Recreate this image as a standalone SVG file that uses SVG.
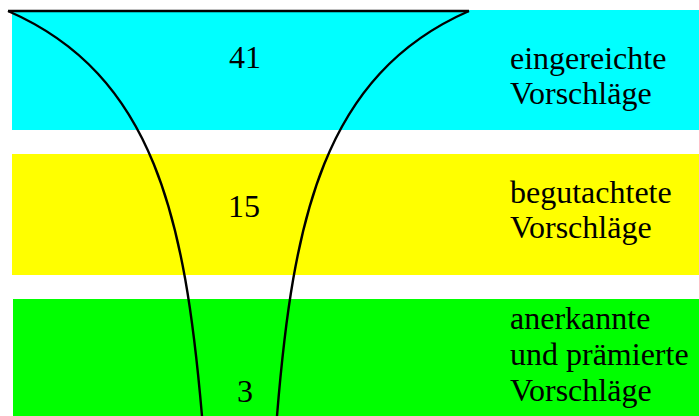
<svg xmlns="http://www.w3.org/2000/svg" width="699" height="416" viewBox="0 0 699 416">
<style>
.lbl{font-family:"Liberation Serif","Times New Roman",serif;font-size:32px;fill:#000}
.fun{fill:none;stroke:#000;stroke-width:2.4}
</style>
<rect width="699" height="416" fill="#fff"/>
<g id="band-submitted">
<rect x="12" y="10" width="687" height="120" fill="#00ffff"/>
</g>
<g id="band-reviewed">
<rect x="12" y="154" width="687" height="121" fill="#ffff00"/>
</g>
<g id="band-awarded">
<rect x="13" y="299" width="686" height="117" fill="#00ff00"/>
</g>
<g id="funnel">
<line class="fun" x1="8" y1="11" x2="469" y2="11"/>
<path class="fun" d="M8,11 C155,75 185,220 202,416"/>
<path class="fun" d="M469,11 C323,75 293,220 277,416"/>
</g>
<g id="texts">
<text class="lbl" x="229" y="68">41</text>
<text class="lbl" x="510" y="69">eingereichte</text>
<text class="lbl" x="510" y="104">Vorschläge</text>
<text class="lbl" x="228" y="217">15</text>
<text class="lbl" x="510" y="203">begutachtete</text>
<text class="lbl" x="510" y="238">Vorschläge</text>
<text class="lbl" x="237" y="402">3</text>
<text class="lbl" x="510" y="329">anerkannte</text>
<text class="lbl" x="510" y="365">und prämierte</text>
<text class="lbl" x="510" y="401">Vorschläge</text>
</g>
</svg>
